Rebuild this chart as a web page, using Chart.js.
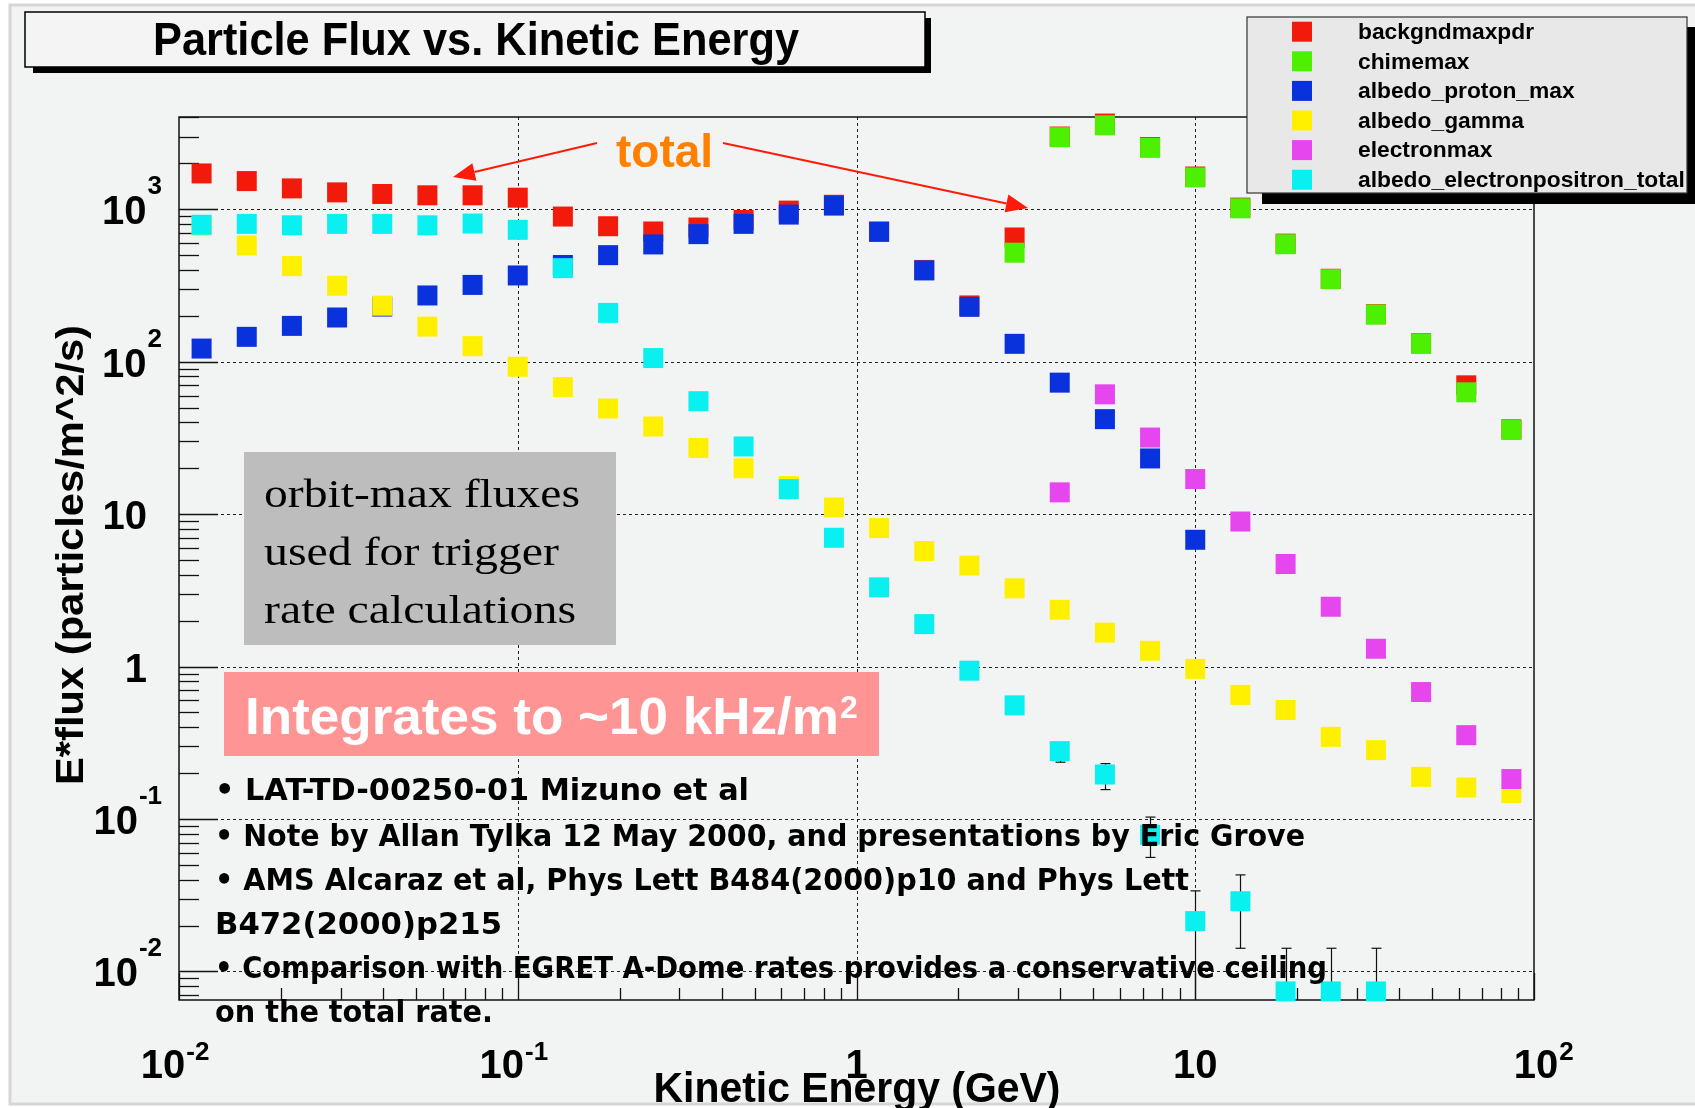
<!DOCTYPE html>
<html><head><meta charset="utf-8">
<script src="https://cdn.jsdelivr.net/npm/chart.js@4.4.0/dist/chart.umd.min.js"></script>
<style>html,body{margin:0;padding:0;background:#fff;overflow:hidden}canvas{display:block}</style>
</head><body>
<canvas id="c" width="1695" height="1108"></canvas>
<script>
// ---------------- DATA ----------------
const energyGeV = [0.01166, 0.01585, 0.02154, 0.02929, 0.03981, 0.05412, 0.07356, 0.1, 0.1359, 0.1848,
  0.2512, 0.3415, 0.4642, 0.631, 0.8577, 1.166, 1.585, 2.154, 2.929, 3.981,
  5.412, 7.356, 10, 13.59, 18.48, 25.12, 34.15, 46.42, 63.1, 85.77];

const backgndmaxpdr = [1718, 1531, 1371, 1291, 1260, 1235, 1235, 1191, 896, 774,
  715, 759, 851, 980, 1070, 715, 400, 234, 653, 3000,
  3650, 2560, 1640, 1025, 595, 350, 205, 132, 70, 36];
const chimemax = [null, null, null, null, null, null, null, null, null, null,
  null, null, null, null, null, null, null, null, 519, 2972,
  3556, 2529, 1618, 1015, 590, 348, 204, 131, 63, 35.7];
const albedo_proton_max = [122, 145.6, 171.8, 195, 230, 272, 319, 368, 431, 500,
  588, 687, 802, 923, 1057, 711, 397, 229, 131, 72.9,
  42.0, 23.2, 6.79, null, null, null, null, null, null, null];
const albedo_gamma = [780, 579, 424, 315, 233, 170, 126.5, 92.7, 68.2, 49.3,
  37.6, 27.2, 20.0, 15.3, 11.07, 8.1, 5.73, 4.6, 3.26, 2.36,
  1.67, 1.27, 0.966, 0.652, 0.519, 0.346, 0.283, 0.189, 0.161, 0.148];
const electronmax = [null, null, null, null, null, null, null, null, null, null,
  null, null, null, null, null, null, null, null, null, 13.9,
  61.1, 31.8, 17.0, 8.95, 4.71, 2.47, 1.31, 0.681, 0.355, 0.183];
const albedo_electronpositron_total = [791, 802, 785, 802, 802, 785, 806, 733, 411, 209,
  105.7, 55.1, 27.8, 14.6, 7.0, 3.31, 1.90, 0.94, 0.557, 0.279,
  0.196, 0.0788, 0.0214, 0.0289, 0.0074, 0.0074, 0.0074, null, null, null];
// error bars of albedo_electronpositron_total (low / high)
const cyanErrLow = [null, null, null, null, null, null, null, null, null, null,
  null, null, null, null, null, null, null, null, null, 0.236,
  0.156, 0.056, 0.001, 0.0142, 0.001, 0.001, 0.001, null, null, null];
const cyanErrHigh = [null, null, null, null, null, null, null, null, null, null,
  null, null, null, null, null, null, null, null, null, 0.30,
  0.231, 0.103, 0.0338, 0.043, 0.0142, 0.0142, 0.0142, null, null, null];

const seriesNames = ['backgndmaxpdr', 'chimemax', 'albedo_proton_max', 'albedo_gamma', 'electronmax', 'albedo_electronpositron_total'];
const seriesValues = [backgndmaxpdr, chimemax, albedo_proton_max, albedo_gamma, electronmax, albedo_electronpositron_total];
const seriesColors = ['#f21a0a', '#4cf000', '#0a32dc', '#fff000', '#e646ee', '#0af0f0'];

const xTickValues = [0.01, 0.1, 1, 10, 100];
const xTickLabels = ['10^-2', '10^-1', '1', '10', '10^2'];
const yTickValues = [0.01, 0.1, 1, 10, 100, 1000];
const yTickLabels = ['10^-2', '10^-1', '1', '10', '10^2', '10^3'];

const titleText = 'Particle Flux vs. Kinetic Energy';
const xTitle = 'Kinetic Energy (GeV)';
const yTitle = 'E*flux (particles/m^2/s)';
const grayBoxLines = ['orbit-max fluxes', 'used for trigger', 'rate calculations'];
const pinkText = 'Integrates to ~10 kHz/m';
const pinkSup = '2';
const totalText = 'total';
const noteLines = ['\u2022 LAT-TD-00250-01 Mizuno et al',
  '\u2022 Note by Allan Tylka 12 May 2000, and presentations by Eric Grove',
  '\u2022 AMS Alcaraz et al, Phys Lett B484(2000)p10 and Phys Lett',
  'B472(2000)p215',
  '\u2022 Comparison with EGRET A-Dome rates provides a conservative ceiling',
  'on the total rate.'];

// ---------------- HELPERS ----------------
function fitText(ctx, text, x, y, width, align) {
  const w = ctx.measureText(text).width;
  const s = width / w;
  const x0 = align === 'left' ? x : (align === 'center' ? x - width / 2 : x - width);
  ctx.save();
  ctx.translate(x0, y); ctx.scale(s, 1);
  ctx.textAlign = 'left';
  ctx.fillText(text, 0, 0);
  ctx.restore();
}
function arrow(ctx, x1, y1, x2, y2, color) {
  const ang = Math.atan2(y2 - y1, x2 - x1);
  const L = 22, H = 9;
  const bx = x2 - L * Math.cos(ang), by = y2 - L * Math.sin(ang);
  ctx.save();
  ctx.strokeStyle = color; ctx.fillStyle = color; ctx.lineWidth = 2;
  ctx.beginPath(); ctx.moveTo(x1, y1); ctx.lineTo(bx, by); ctx.stroke();
  ctx.beginPath();
  ctx.moveTo(x2, y2);
  ctx.lineTo(bx + H * Math.sin(ang), by - H * Math.cos(ang));
  ctx.lineTo(bx - H * Math.sin(ang), by + H * Math.cos(ang));
  ctx.closePath(); ctx.fill();
  ctx.restore();
}
const FONT = '"Liberation Sans", Arial, Helvetica, sans-serif';

const decorPlugin = {
  id: 'rootDecor',
  beforeDraw(chart) {
    const ctx = chart.ctx;
    ctx.save();
    ctx.fillStyle = '#ffffff'; ctx.fillRect(0, 0, 1695, 1108);
    ctx.fillStyle = '#f2f3f3'; ctx.fillRect(10, 5, 1685, 1099);
    ctx.strokeStyle = '#d6d6d6'; ctx.lineWidth = 3; ctx.strokeRect(10, 5, 1690, 1099);
    ctx.restore();
  },
  beforeDatasetsDraw(chart) {
    const ctx = chart.ctx, a = chart.chartArea;
    const xs = chart.scales.x, ys = chart.scales.y;
    ctx.save();
    // dotted grid at decades
    ctx.strokeStyle = '#222'; ctx.lineWidth = 1; ctx.setLineDash([3, 3]);
    xTickValues.forEach(v => {
      const px = Math.round(xs.getPixelForValue(v)) + 0.5;
      if (px <= a.left + 2 || px >= a.right - 2) return;
      ctx.beginPath(); ctx.moveTo(px, a.top); ctx.lineTo(px, a.bottom); ctx.stroke();
    });
    yTickValues.forEach(v => {
      const py = Math.round(ys.getPixelForValue(v)) + 0.5;
      if (py <= a.top + 2 || py >= a.bottom - 2) return;
      ctx.beginPath(); ctx.moveTo(a.left, py); ctx.lineTo(a.right, py); ctx.stroke();
    });
    ctx.setLineDash([]);
    // frame
    ctx.strokeStyle = '#111'; ctx.lineWidth = 1.5;
    ctx.strokeRect(a.left, a.top, a.right - a.left, a.bottom - a.top);
    // y ticks
    ctx.lineWidth = 1.3;
    for (let e = -3; e <= 3; e++) {
      for (let m = 1; m <= 9; m++) {
        const v = m * Math.pow(10, e);
        if (v < ys.min || v > ys.max) continue;
        const py = Math.round(ys.getPixelForValue(v)) + 0.5;
        const len = m === 1 ? 39 : 20;
        ctx.beginPath(); ctx.moveTo(a.left, py); ctx.lineTo(a.left + len, py); ctx.stroke();
      }
    }
    // x ticks
    for (let e = -2; e <= 2; e++) {
      for (let m = 1; m <= 9; m++) {
        const v = m * Math.pow(10, e);
        if (v < xs.min || v > xs.max) continue;
        const px = Math.round(xs.getPixelForValue(v)) + 0.5;
        const len = m === 1 ? 27 : 12;
        ctx.beginPath(); ctx.moveTo(px, a.bottom); ctx.lineTo(px, a.bottom - len); ctx.stroke();
      }
    }
    // error bars for albedo_electronpositron_total
    ctx.strokeStyle = '#111'; ctx.lineWidth = 1.2;
    energyGeV.forEach((x, i) => {
      if (cyanErrLow[i] == null) return;
      const px = Math.round(xs.getPixelForValue(x)) + 0.5;
      const lo = ys.getPixelForValue(Math.max(cyanErrLow[i], ys.min));
      const hi = ys.getPixelForValue(cyanErrHigh[i]);
      const yl = Math.min(lo, a.bottom);
      ctx.beginPath(); ctx.moveTo(px, yl); ctx.lineTo(px, hi); ctx.stroke();
      ctx.beginPath(); ctx.moveTo(px - 5, hi); ctx.lineTo(px + 5, hi); ctx.stroke();
      if (lo < a.bottom - 1) { ctx.beginPath(); ctx.moveTo(px - 5, lo); ctx.lineTo(px + 5, lo); ctx.stroke(); }
    });
    ctx.restore();
  },
  afterDatasetsDraw(chart) {
    const ctx = chart.ctx, a = chart.chartArea;
    const xs = chart.scales.x, ys = chart.scales.y;
    ctx.save();
    ctx.textBaseline = 'alphabetic';
    // gray box
    ctx.fillStyle = '#bdbdbd'; ctx.fillRect(244, 452, 372, 193);
    ctx.fillStyle = '#000';
    ctx.font = '40px "Liberation Serif", "Times New Roman", serif';
    const gw = [316, 295, 312], gb = [507, 565, 623];
    grayBoxLines.forEach((t, i) => fitText(ctx, t, 264, gb[i], gw[i], 'left'));
    // pink box
    ctx.fillStyle = '#ff9494'; ctx.fillRect(224, 672, 655, 84);
    ctx.fillStyle = '#ffffff';
    ctx.font = 'bold 52px ' + FONT;
    fitText(ctx, pinkText, 245, 734, 594, 'left');
    ctx.font = 'bold 32px ' + FONT;
    ctx.fillText(pinkSup, 840, 718);
    // notes
    ctx.fillStyle = '#000';
    ctx.font = 'bold 30px "DejaVu Sans", sans-serif';
    const nb = [800, 846, 890, 934, 978, 1022];
    const nw = [534, 1090, 974, 287, 1112, 278];
    noteLines.forEach((t, i) => fitText(ctx, t, 215, nb[i], nw[i], 'left'));
    // "total" and arrows
    ctx.fillStyle = '#ff8000';
    ctx.font = 'bold 46px ' + FONT;
    ctx.textAlign = 'left';
    ctx.fillText(totalText, 616, 167);
    arrow(ctx, 597, 143, 453, 177, '#ff1a0a');
    arrow(ctx, 723, 143, 1028, 208, '#ff1a0a');
    // title box
    ctx.fillStyle = '#000'; ctx.fillRect(33, 18, 898, 55);
    ctx.fillStyle = '#f4f4f4'; ctx.fillRect(25, 12, 900, 55);
    ctx.strokeStyle = '#000'; ctx.lineWidth = 1.5; ctx.strokeRect(25, 12, 900, 55);
    ctx.fillStyle = '#000';
    ctx.font = 'bold 46px ' + FONT;
    fitText(ctx, titleText, 476, 55, 646, 'center');
    // legend
    ctx.fillStyle = '#000'; ctx.fillRect(1262, 27, 433, 177);
    ctx.fillStyle = '#e8e8e8'; ctx.fillRect(1247, 17, 440, 176);
    ctx.strokeStyle = '#333'; ctx.lineWidth = 1.2; ctx.strokeRect(1247, 17, 440, 176);
    ctx.font = 'bold 22.8px ' + FONT;
    ctx.textBaseline = 'middle';
    chart.data.datasets.forEach((ds, i) => {
      const cy = 31.7 + i * 29.6;
      ctx.fillStyle = ds.backgroundColor;
      ctx.fillRect(1292, cy - 10, 20, 20);
      ctx.fillStyle = '#000';
      ctx.fillText(ds.label, 1358, cy + 1);
    });
    ctx.textBaseline = 'alphabetic';
    // y tick labels
    yTickValues.forEach((v, i) => {
      const lab = yTickLabels[i];
      const py = ys.getPixelForValue(v);
      if (lab.includes('^')) {
        const [b, e] = lab.split('^');
        ctx.font = 'bold 26px ' + FONT;
        const sw = ctx.measureText(e).width;
        const sx = 162 - sw;
        ctx.fillText(e, sx, py - 15);
        ctx.font = 'bold 40px ' + FONT;
        ctx.textAlign = 'right';
        ctx.fillText(b, sx - 1, py + 15);
        ctx.textAlign = 'left';
      } else {
        ctx.font = 'bold 40px ' + FONT;
        ctx.textAlign = 'right';
        ctx.fillText(lab, 147, py + 15);
        ctx.textAlign = 'left';
      }
    });
    // x tick labels
    xTickValues.forEach((v, i) => {
      const lab = xTickLabels[i];
      const px = xs.getPixelForValue(v);
      ctx.font = 'bold 40px ' + FONT;
      if (lab.includes('^')) {
        const [b, e] = lab.split('^');
        const bw = ctx.measureText(b).width;
        const cx = px + (e.startsWith('-') ? -16 : 2);
        ctx.textAlign = 'center';
        ctx.fillText(b, cx, 1078);
        ctx.textAlign = 'left';
        ctx.font = 'bold 26px ' + FONT;
        ctx.fillText(e, cx + bw / 2 + 1, 1060);
      } else {
        ctx.textAlign = 'center';
        ctx.fillText(lab, px, 1078);
        ctx.textAlign = 'left';
      }
    });
    // axis titles
    ctx.font = 'bold 42px ' + FONT;
    fitText(ctx, xTitle, 857, 1102, 407, 'center');
    ctx.save();
    ctx.translate(83, 555); ctx.rotate(-Math.PI / 2);
    ctx.font = 'bold 39px ' + FONT;
    fitText(ctx, yTitle, 0, 0, 460, 'center');
    ctx.restore();
    ctx.restore();
  }
};

const orders = [6, 5, 4, 3, 2, 1];
const datasets = seriesNames.map((name, s) => ({
  label: name,
  data: energyGeV.map((x, i) => ({ x: x, y: seriesValues[s][i] })).filter(p => p.y != null),
  backgroundColor: seriesColors[s],
  borderColor: seriesColors[s],
  borderWidth: 0,
  pointStyle: 'rect',
  pointRadius: 14.14,
  pointHoverRadius: 14.14,
  showLine: false,
  clip: false,
  order: orders[s]
}));

new Chart(document.getElementById('c'), {
  type: 'scatter',
  data: { datasets: datasets },
  options: {
    responsive: false,
    animation: false,
    devicePixelRatio: 1,
    events: [],
    layout: { padding: { left: 179, top: 117, right: 161, bottom: 108 } },
    scales: {
      x: { type: 'logarithmic', min: 0.01, max: 100, display: false },
      y: { type: 'logarithmic', min: 0.0065, max: 4030, display: false }
    },
    plugins: { legend: { display: false }, tooltip: { enabled: false }, title: { display: false } }
  },
  plugins: [decorPlugin]
});
</script>
</body></html>
